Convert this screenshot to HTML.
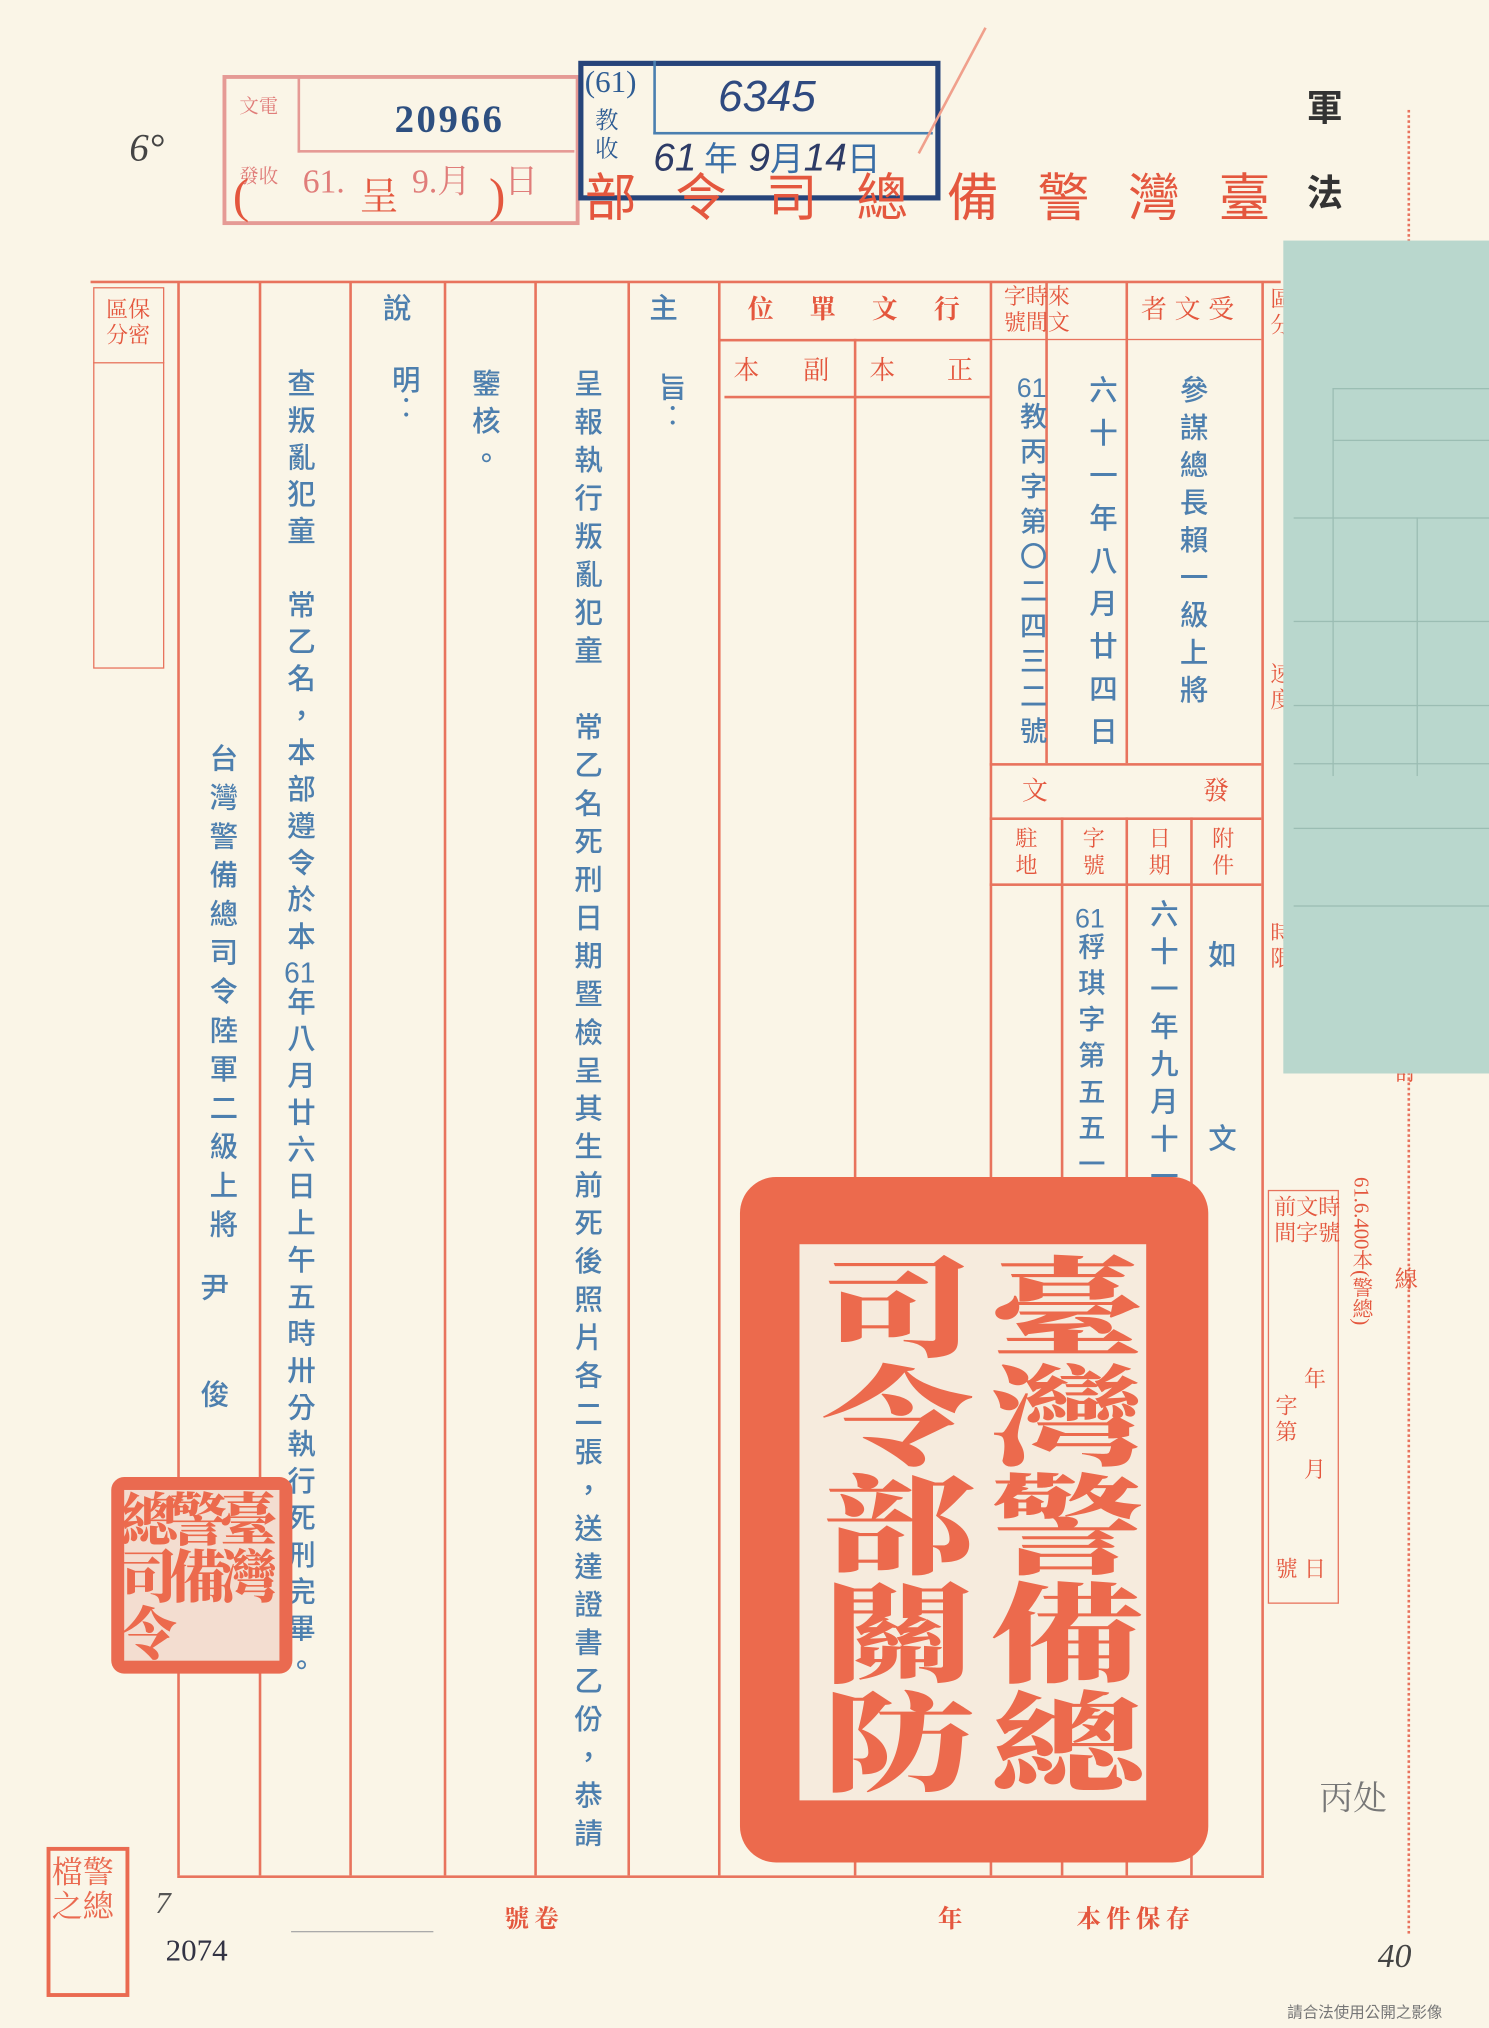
<!DOCTYPE html>
<html><head><meta charset="utf-8">
<style>
html,body{margin:0;padding:0;background:#faf5e7;}
body{width:1489px;height:2028px;overflow:hidden;position:relative;}
#w{position:absolute;left:0;top:0;width:1151px;height:1568px;transform:scale(1.29366,1.29337);transform-origin:0 0;background:#faf5e7;font-family:"Liberation Serif","Noto Serif CJK SC","Noto Sans CJK TC",serif;}
.a{position:absolute;}
.h{position:absolute;background:#e8735d;height:2px;}
.vl{position:absolute;background:#e8735d;width:1.5px;}
.r{color:#e4573e;}
.b{color:#4d7fae;font-family:"Liberation Sans","Noto Sans CJK TC",sans-serif;font-weight:500;}
.v{position:absolute;writing-mode:vertical-rl;white-space:nowrap;}
.t{position:absolute;font-size:20px;line-height:1;}
.cu{text-combine-upright:all;}
.seal{font-family:"Noto Serif CJK SC",serif;font-weight:900;color:#ec6a4d;}
</style></head><body><div id="w">

<!-- header stamps -->
<div class="a" style="left:172px;top:58px;width:270px;height:110px;border:3px solid #e59a95;"></div>
<div class="a" style="left:230px;top:58px;width:212px;height:58px;border-left:2px solid #e59a95;border-bottom:2px solid #e59a95;"></div>
<div class="t" style="left:185px;top:76px;color:#e07d7a;font-size:15px;">文電</div>
<div class="t" style="left:185px;top:130px;color:#e07d7a;font-size:15px;">發收</div>
<div class="t" style="left:305px;top:78px;color:#2d4f80;font-size:30px;font-weight:bold;letter-spacing:2px;">20966</div>
<div class="t" style="left:234px;top:128px;color:#e07d7a;font-size:26px;">61.　　9.月　日</div>
<div class="a" style="left:447px;top:47px;width:272px;height:100px;border:4px solid #26447a;"></div>
<div class="a" style="left:505px;top:47px;width:214px;height:55px;border-left:2px solid #4a7fb0;border-bottom:2px solid #4a7fb0;"></div>
<div class="t" style="left:452px;top:52px;color:#2f5d94;font-size:24px;">(61)</div>
<div class="t" style="left:460px;top:82px;color:#2f5d94;font-size:18px;line-height:22px;">教<br>收</div>
<div class="t" style="left:555px;top:58px;color:#2f4a80;font-size:34px;font-style:italic;font-family:'Liberation Sans',sans-serif;">6345</div>
<div class="t" style="left:505px;top:108px;color:#2d3b66;font-size:30px;font-style:italic;font-family:'Liberation Sans',sans-serif;">61<span style="color:#3a6ea6;font-size:26px;font-style:normal;font-family:'Noto Sans CJK SC',sans-serif"> 年</span> 9<span style="color:#3a6ea6;font-size:26px;font-style:normal;font-family:'Noto Sans CJK SC',sans-serif">月</span>14<span style="color:#3a6ea6;font-size:26px;font-style:normal;font-family:'Noto Sans CJK SC',sans-serif">日</span></div>
<div class="t" style="left:100px;top:100px;color:#444;font-size:30px;font-style:italic;">6°</div>

<div class="t r" style="left:180px;top:133px;font-size:38px;">(</div>
<div class="t r" style="left:278px;top:138px;font-size:30px;">呈</div>
<div class="t r" style="left:378px;top:133px;font-size:38px;">)</div>
<div class="t r" style="left:452px;top:130px;font-size:40px;letter-spacing:30px;font-family:'Noto Sans CJK TC',sans-serif;">部令司總備警灣臺</div>
<div class="t" style="left:1010px;top:68px;font-size:28px;color:#333;font-family:'Noto Sans CJK TC',sans-serif;font-weight:bold;">軍</div>
<div class="t" style="left:1010px;top:134px;font-size:28px;color:#333;font-family:'Noto Sans CJK TC',sans-serif;font-weight:bold;">法</div>
<div class="a" style="left:735px;top:15px;width:2px;height:110px;background:#f0a08c;transform:rotate(28deg);"></div>

<!-- table lines -->
<div class="h" style="left:70px;top:217px;width:920px;"></div>
<div class="h" style="left:137px;top:1450px;width:840px;"></div>
<div class="vl" style="left:137px;top:218px;height:1232px;"></div>
<div class="vl" style="left:200px;top:218px;height:1232px;"></div>
<div class="vl" style="left:270px;top:218px;height:1232px;"></div>
<div class="vl" style="left:343px;top:218px;height:1232px;"></div>
<div class="vl" style="left:413px;top:218px;height:1232px;"></div>
<div class="vl" style="left:485px;top:218px;height:1232px;"></div>
<div class="vl" style="left:555px;top:218px;height:1232px;"></div>
<div class="vl" style="left:660px;top:262px;height:1188px;"></div>
<div class="vl" style="left:765px;top:218px;height:1232px;"></div>
<div class="vl" style="left:975px;top:218px;height:1232px;"></div>
<div class="h" style="left:555px;top:262px;width:210px;"></div>
<div class="h" style="left:560px;top:306px;width:205px;"></div>
<div class="a" style="left:72px;top:222px;width:53px;height:293px;border:1.5px solid #e8735d;"></div>
<div class="h" style="left:72px;top:280px;width:55px;height:1px;"></div>
<div class="t r" style="left:82px;top:230px;font-size:17px;line-height:20px;">區保<br>分密</div>

<!-- receive area -->
<div class="vl" style="left:808px;top:218px;height:372px;"></div>
<div class="vl" style="left:870px;top:218px;height:372px;"></div>
<div class="h" style="left:765px;top:262px;width:210px;height:1px;"></div>
<div class="h" style="left:765px;top:590px;width:210px;"></div>
<div class="h" style="left:765px;top:632px;width:210px;"></div>
<div class="h" style="left:765px;top:683px;width:210px;"></div>
<div class="vl" style="left:820px;top:632px;height:818px;"></div>
<div class="vl" style="left:870px;top:632px;height:818px;"></div>
<div class="vl" style="left:920px;top:632px;height:818px;"></div>
<div class="t r" style="left:776px;top:220px;font-size:17px;line-height:20px;">字時來<br>號間文</div>
<div class="t r" style="left:882px;top:230px;font-size:20px;letter-spacing:6px;">者文受</div>
<div class="t r" style="left:790px;top:602px;font-size:20px;">文</div>
<div class="t r" style="left:930px;top:602px;font-size:20px;">發</div>
<div class="t r" style="left:785px;top:638px;font-size:17px;line-height:21px;">駐<br>地</div>
<div class="t r" style="left:837px;top:638px;font-size:17px;line-height:21px;">字<br>號</div>
<div class="t r" style="left:888px;top:638px;font-size:17px;line-height:21px;">日<br>期</div>
<div class="t r" style="left:937px;top:638px;font-size:17px;line-height:21px;">附<br>件</div>

<div class="t r" style="left:578px;top:230px;font-size:20px;letter-spacing:28px;font-weight:bold;">位單文行</div>
<div class="t r" style="left:567px;top:277px;font-size:20px;letter-spacing:34px;">本副</div>
<div class="t r" style="left:672px;top:277px;font-size:20px;letter-spacing:40px;">本正</div>

<!-- right strip -->
<div class="a" style="left:980px;top:920px;width:53px;height:318px;border:1.5px solid #e8735d;"></div>
<div class="t r" style="left:982px;top:222px;font-size:17px;line-height:20px;">區<br>分</div>
<div class="t r" style="left:982px;top:512px;font-size:17px;line-height:20px;">速<br>度</div>
<div class="t r" style="left:982px;top:712px;font-size:17px;line-height:20px;">時<br>限</div>
<div class="t r" style="left:985px;top:924px;font-size:17px;line-height:20px;">前文時<br>間字號</div>
<div class="t r" style="left:1008px;top:1058px;font-size:17px;">年</div>
<div class="t r" style="left:986px;top:1078px;font-size:17px;line-height:20px;">字<br>第</div>
<div class="t r" style="left:1008px;top:1128px;font-size:17px;">月</div>
<div class="t r" style="left:986px;top:1205px;font-size:17px;">號</div>
<div class="t r" style="left:1008px;top:1205px;font-size:17px;">日</div>
<div class="v r" style="left:1040px;top:910px;font-size:16px;">61.6.400本(警總)</div>
<div class="a" style="left:1088px;top:85px;height:1410px;border-left:2px dotted #e8735d;"></div>
<div class="t r" style="left:1078px;top:820px;font-size:18px;">訂</div>
<div class="t r" style="left:1078px;top:980px;font-size:18px;">線</div>

<!-- teal paper -->
<div class="a" style="left:992px;top:186px;width:159px;height:644px;background:#b9d7cd;"></div>
<div class="a" style="left:1030px;top:300px;width:121px;height:1px;background:#9bbdb3;"></div>
<div class="a" style="left:1030px;top:340px;width:121px;height:1px;background:#9bbdb3;"></div>
<div class="a" style="left:1000px;top:400px;width:151px;height:1px;background:#9bbdb3;"></div>
<div class="a" style="left:1000px;top:480px;width:151px;height:1px;background:#9bbdb3;"></div>
<div class="a" style="left:1000px;top:545px;width:151px;height:1px;background:#9bbdb3;"></div>
<div class="a" style="left:1000px;top:590px;width:151px;height:1px;background:#9bbdb3;"></div>
<div class="a" style="left:1000px;top:640px;width:151px;height:1px;background:#9bbdb3;"></div>
<div class="a" style="left:1000px;top:700px;width:151px;height:1px;background:#9bbdb3;"></div>
<div class="a" style="left:1030px;top:300px;width:1px;height:300px;background:#9bbdb3;"></div>
<div class="a" style="left:1095px;top:400px;width:1px;height:200px;background:#9bbdb3;"></div>

<!-- body text -->
<div class="t b" style="left:502px;top:228px;font-size:22px;">主</div>
<div class="v b" style="left:502px;top:288px;font-size:22px;">旨︰</div>
<div class="t b" style="left:296px;top:228px;font-size:22px;">說</div>
<div class="v b" style="left:296px;top:282px;font-size:22px;">明︰</div>
<div class="v b" style="left:437px;top:285px;font-size:22px;letter-spacing:7.5px;">呈報執行叛亂犯童　常乙名死刑日期暨檢呈其生前死後照片各二張，送達證書乙份，恭請</div>
<div class="v b" style="left:358px;top:285px;font-size:22px;letter-spacing:7px;">鑒核。</div>
<div class="v b" style="left:215px;top:285px;font-size:22px;letter-spacing:6.5px;">查叛亂犯童　常乙名，本部遵令於本<span class="cu">61</span>年八月廿六日上午五時卅分執行死刑完畢。</div>
<div class="v b" style="left:155px;top:575px;font-size:22px;letter-spacing:8px;">台灣警備總司令陸軍二級上將</div>
<div class="t b" style="left:155px;top:985px;font-size:22px;">尹</div>
<div class="t b" style="left:155px;top:1068px;font-size:22px;">俊</div>

<div class="v b" style="left:905px;top:290px;font-size:22px;letter-spacing:7px;">參謀總長賴一級上將</div>
<div class="v b" style="left:835px;top:290px;font-size:22px;letter-spacing:11px;">六十一年八月廿四日</div>
<div class="v b" style="left:782px;top:290px;font-size:21px;letter-spacing:6px;"><span class="cu">61</span>教丙字第〇二四三二號</div>
<div class="v b" style="left:827px;top:700px;font-size:21px;letter-spacing:7px;"><span class="cu">61</span>稃琪字第五五一六號</div>
<div class="v b" style="left:882px;top:695px;font-size:22px;letter-spacing:7px;">六十一年九月十一日</div>
<div class="t b" style="left:934px;top:728px;font-size:22px;">如</div>
<div class="t b" style="left:934px;top:870px;font-size:22px;">文</div>

<!-- big seal -->
<div class="a" style="left:572px;top:910px;width:362px;height:530px;background:#ec6a4d;border-radius:28px;"></div>
<div class="a" style="left:618px;top:962px;width:268px;height:430px;background:#f6ebdd;"></div>
<div class="v seal" style="left:765px;top:968px;font-size:84px;line-height:84px;transform:scaleX(1.4);transform-origin:0 0;">臺灣警備總</div>
<div class="v seal" style="left:635px;top:968px;font-size:84px;line-height:84px;transform:scaleX(1.4);transform-origin:0 0;">司令部關防</div>
<!-- small seal -->
<div class="a" style="left:86px;top:1142px;width:140px;height:152px;background:#ea6a50;border-radius:10px;"></div>
<div class="a" style="left:96px;top:1152px;width:120px;height:132px;background:#f3ddd0;"></div>
<div class="v seal" style="left:172px;top:1152px;font-size:44px;line-height:40px;">臺灣</div>
<div class="v seal" style="left:133px;top:1152px;font-size:44px;line-height:40px;">警備</div>
<div class="v seal" style="left:95px;top:1152px;font-size:44px;line-height:40px;">總司令</div>
<div class="a" style="left:36px;top:1428px;width:58px;height:110px;border:3px solid #ea6a50;"></div>
<div class="t" style="left:40px;top:1436px;font-size:24px;color:#ea6a50;line-height:26px;">檔警<br>之總</div>

<!-- footer -->
<div class="t r" style="left:390px;top:1475px;font-size:19px;letter-spacing:4px;font-weight:bold;">號卷</div>
<div class="t r" style="left:725px;top:1475px;font-size:19px;font-weight:bold;">年</div>
<div class="t r" style="left:832px;top:1475px;font-size:19px;letter-spacing:4px;font-weight:bold;">本件保存</div>
<div class="a" style="left:225px;top:1493px;width:110px;height:1px;background:#aaa;"></div>
<div class="t" style="left:128px;top:1497px;font-size:24px;color:#334;">2074</div>
<div class="t" style="left:120px;top:1460px;font-size:24px;color:#555;font-style:italic;">7</div>
<div class="t" style="left:1065px;top:1500px;font-size:26px;color:#444;font-style:italic;">40</div>
<div class="t" style="left:1020px;top:1378px;font-size:26px;color:#777;">丙处</div>
<div class="t" style="left:995px;top:1550px;font-size:12px;color:#777;font-family:'Liberation Sans','Noto Sans CJK TC',sans-serif;">請合法使用公開之影像</div>
</div></body></html>
